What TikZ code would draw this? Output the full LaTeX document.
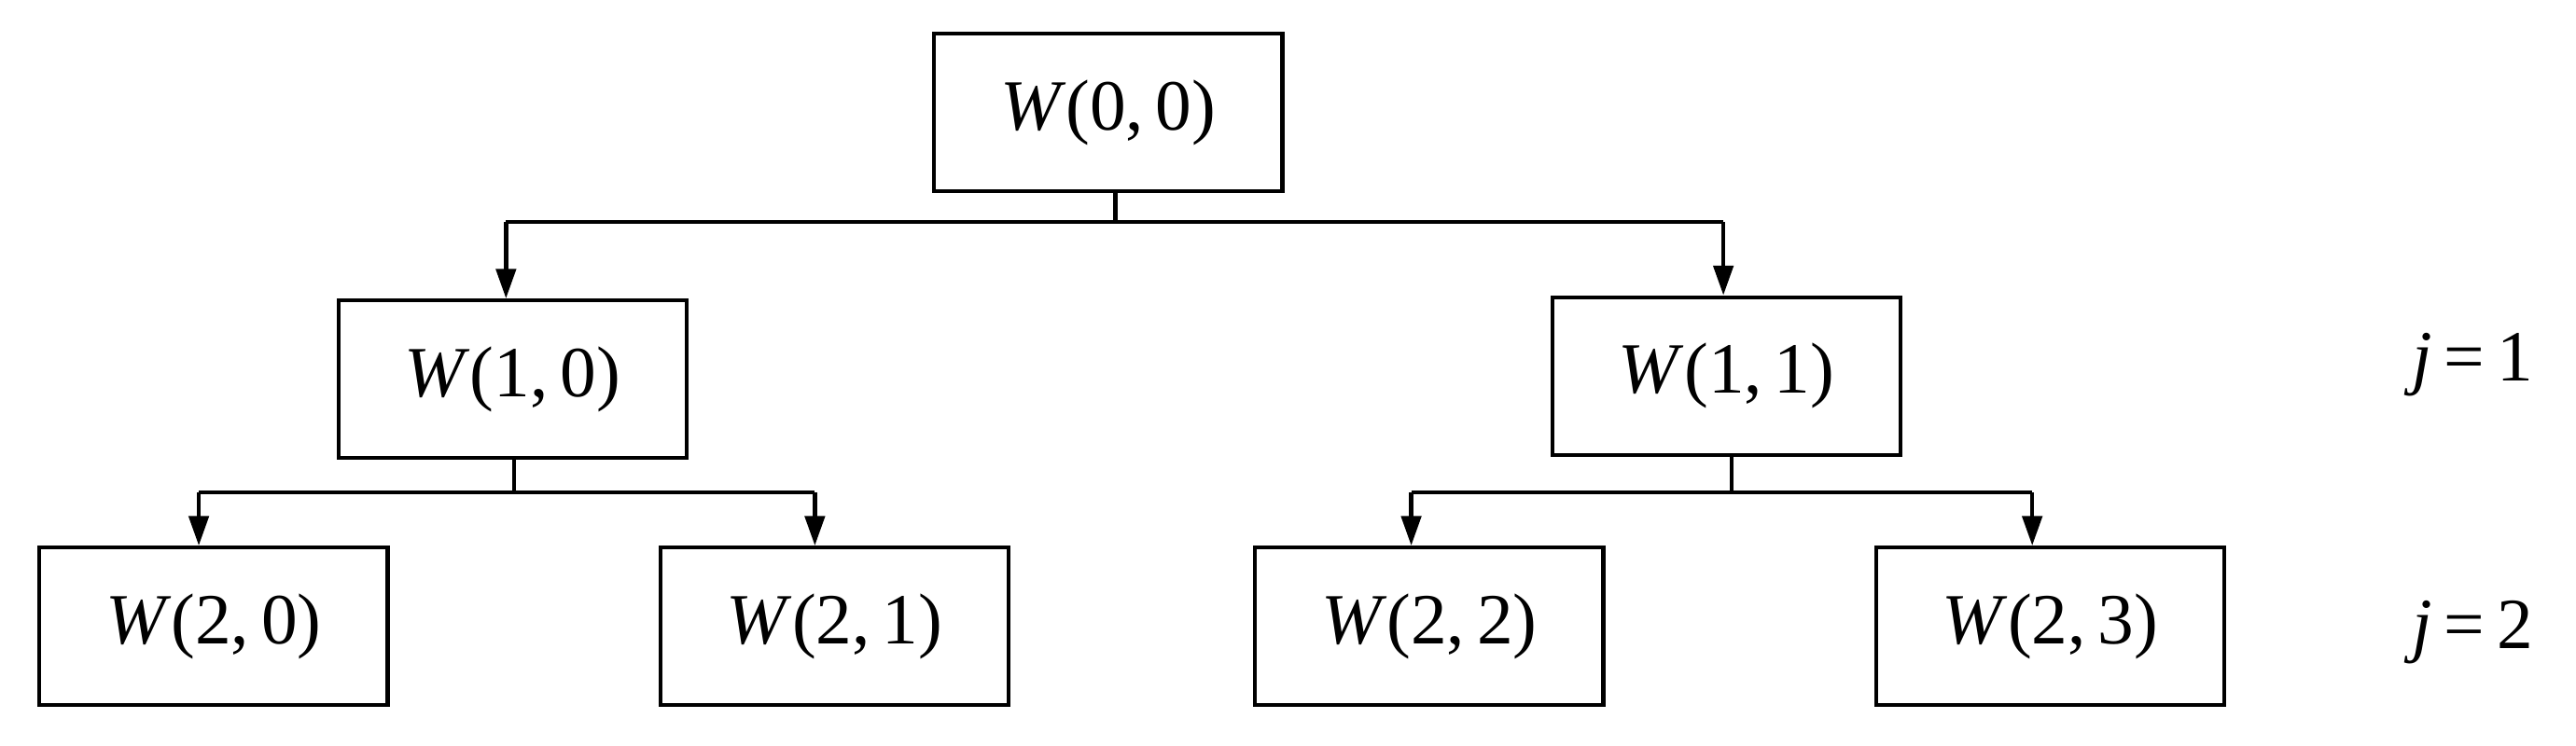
\documentclass[tikz,border=0pt]{standalone}
\usepackage{fontspec}
\setmainfont{Liberation Serif}
\usetikzlibrary{arrows.meta}
\begin{document}
\begin{tikzpicture}[x=0.02cm,y=-0.02cm,
  box/.style={draw,line width=1.4pt,minimum width=212*0.02cm,minimum height=96*0.02cm,inner sep=0pt,font=\fontsize{25}{30}\selectfont},
  con/.style={line width=1.4pt},
  arr/.style={line width=1.4pt,-{Triangle[length=18*0.02cm,width=12*0.02cm]}},
  lab/.style={font=\fontsize{25}{30}\selectfont}]
\useasboundingbox (0,0) rectangle (1568,454);
\node[box] (a) at (674.5,68.5) {\textit{W}(0,\,0)};
\node[box] (b) at (312,231) {\textit{W}(1,\,0)};
\node[box] (c) at (1051,229) {\textit{W}(1,\,1)};
\node[box] (d) at (130,381.5) {\textit{W}(2,\,0)};
\node[box] (e) at (508,381.5) {\textit{W}(2,\,1)};
\node[box] (f) at (870,381.5) {\textit{W}(2,\,2)};
\node[box] (g) at (1248,381.5) {\textit{W}(2,\,3)};
\node[lab] (j1) at (1505,222) {\textit{j}\,=\,1};
\node[lab] (j2) at (1505,385) {\textit{j}\,=\,2};
\coordinate (p0) at (679,135);
\coordinate (p0l) at (308,135);
\coordinate (p0r) at (1049,135);
\draw[con] (a.south -| p0) -- (p0);
\draw[con] (p0l) -- (p0r);
\draw[arr] (p0l) -- (p0l |- b.north);
\draw[arr] (p0r) -- (p0r |- c.north);
\coordinate (p1) at (313,300);
\coordinate (p1l) at (121,300);
\coordinate (p1r) at (496,300);
\draw[con] (b.south -| p1) -- (p1);
\draw[con] (p1l) -- (p1r);
\draw[arr] (p1l) -- (p1l |- d.north);
\draw[arr] (p1r) -- (p1r |- e.north);
\coordinate (p2) at (1054,300);
\coordinate (p2l) at (859,300);
\coordinate (p2r) at (1237,300);
\draw[con] (c.south -| p2) -- (p2);
\draw[con] (p2l) -- (p2r);
\draw[arr] (p2l) -- (p2l |- f.north);
\draw[arr] (p2r) -- (p2r |- g.north);
\end{tikzpicture}
\end{document}
